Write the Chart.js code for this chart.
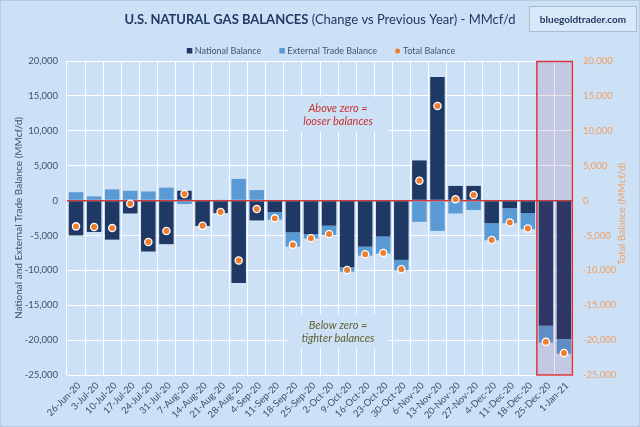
<!DOCTYPE html>
<html><head><meta charset="utf-8">
<script src="https://cdn.jsdelivr.net/npm/chart.js@4"></script>
<style>html,body{margin:0;padding:0;background:#cde1f6;}#wrap{width:640px;height:427px;}</style>
</head><body><div id="wrap"><canvas id="c" width="640" height="427"></canvas></div>
<script>
const categories = ['26-Jun-20','3-Jul-20','10-Jul-20','17-Jul-20','24-Jul-20','31-Jul-20','7-Aug-20','14-Aug-20','21-Aug-20','28-Aug-20','4-Sep-20','11-Sep-20','18-Sep-20','25-Sep-20','2-Oct-20','9-Oct-20','16-Oct-20','23-Oct-20','30-Oct-20','6-Nov-20','13-Nov-20','20-Nov-20','27-Nov-20','4-Dec-20','11-Dec-20','18-Dec-20','25-Dec-20','1-Jan-21'];
const nationalBalance = [-5000,-4500,-5600,-1850,-7300,-6250,1400,-3650,-1800,-11800,-2850,-1650,-4550,-4800,-3600,-9550,-6600,-5150,-8500,5750,17700,2100,2100,-3250,-1100,-1800,-17950,-19850];
const externalTradeBalance = [1200,600,1600,1400,1300,1850,-500,0,100,3100,1500,-1100,-2050,-650,-1350,-650,-1300,-2450,-1500,-3050,-4350,-1850,-1350,-2450,-2150,-2300,-2400,-2100];
const totalBalance = [-3700,-3800,-3950,-450,-5950,-4350,950,-3600,-1650,-8600,-1200,-2550,-6350,-5400,-4800,-9950,-7700,-7500,-9850,2850,13550,200,800,-5650,-3150,-4000,-20250,-21850];
const axisMin = -25000, axisMax = 20000, axisStep = 5000;
const highlightCategories = ['25-Dec-20','1-Jan-21'];
const titleBold = 'U.S. NATURAL GAS BALANCES';
const titleNormal = ' (Change vs Previous Year) - MMcf/d';
const brandText = 'bluegoldtrader.com';
const leftAxisTitle = 'National and External Trade Balance (MMcf/d)';
const rightAxisTitle = 'Total Balance (MMcf/d)';
const notes = [
  {lines:['Above zero =','looser balances'], at:14.5, value:12400, color:'#C8302E'},
  {lines:['Below zero =','tighter balances'], at:14.5, value:-18650, color:'#5F6130'}
];

const BG = '#cde1f6';
const NAVY = '#1F3864';
const LIGHT = '#5B9BD5';
const ORANGE = '#ED7D31';
const FONT = 'Lato, "Noto Sans", sans-serif';
const fmt = v => v.toLocaleString('en-US');

const bgPlugin = {
  id:'bg',
  beforeDraw(chart){
    const c = chart.ctx; c.save(); c.fillStyle = BG; c.fillRect(0,0,chart.width,chart.height); c.restore();
  }
};
const notesPlugin = {
  id:'notes',
  beforeDatasetsDraw(chart){
    const c = chart.ctx, x = chart.scales.x, y = chart.scales.y;
    c.save();
    notes.forEach(n=>{
      const cx = x.getPixelForValue(n.at), cy = y.getPixelForValue(n.value);
      c.fillStyle = BG; c.fillRect(cx-50, cy-17, 100, 35);
      c.font = 'italic 11px ' + FONT; c.fillStyle = n.color; c.textAlign='center'; c.textBaseline='middle';
      c.fillText(n.lines[0], cx, cy-5.5);
      c.fillText(n.lines[1], cx, cy+7.5);
    });
    c.restore();
  }
};
const highlightPlugin = {
  id:'hl',
  beforeDatasetDraw(chart, args){
    if (args.index !== 2) return;
    const c = chart.ctx, x = chart.scales.x, a = chart.chartArea;
    const i0 = categories.indexOf(highlightCategories[0]), i1 = categories.indexOf(highlightCategories[highlightCategories.length-1]);
    const x0 = x.getPixelForValue(i0-0.5), x1 = x.getPixelForValue(i1+0.5);
    c.save();
    c.fillStyle = 'rgba(140,50,100,0.13)';
    c.fillRect(x0, a.top, x1-x0, a.bottom-a.top);
    c.strokeStyle = '#D9363E'; c.lineWidth = 1.5;
    c.strokeRect(x0, a.top+0.5, x1-x0-0.5, a.bottom-a.top-0.5);
    c.restore();
  }
};
const decoPlugin = {
  id:'deco',
  afterDraw(chart){
    const c = chart.ctx, a = chart.chartArea;
    c.save();
    // title
    c.textBaseline = 'middle';
    const TS = 13;
    c.font = 'bold '+TS+'px ' + FONT;
    const wb = c.measureText(titleBold).width;
    c.font = TS+'px ' + FONT;
    const wn = c.measureText(titleNormal).width;
    let tx = 320 - (wb+wn)/2;
    c.fillStyle = '#203864'; c.textAlign = 'left';
    c.font = 'bold '+TS+'px ' + FONT; c.fillText(titleBold, tx, 20);
    c.font = TS+'px ' + FONT; c.fillText(titleNormal, tx+wb, 20);
    // brand box
    c.fillStyle = '#d9e8f8'; c.fillRect(529.5, 6.5, 107, 25);
    c.strokeStyle = '#aabbd0'; c.lineWidth = 1; c.strokeRect(529.5, 6.5, 107, 25);
    c.font = 'bold 10px ' + FONT; c.fillStyle = '#203864'; c.textAlign = 'center';
    c.fillText(brandText, 583, 19.5);
    // legend
    c.font = '9px ' + FONT; c.textAlign = 'left';
    const items = [
      {t:'National Balance', col:NAVY, s:'rect'},
      {t:'External Trade Balance', col:LIGHT, s:'rect'},
      {t:'Total Balance', col:ORANGE, s:'dot'}
    ];
    const gap = 18, mk = 8;
    let total = 0; items.forEach(it=>{ it.w = c.measureText(it.t).width; total += mk + it.w; });
    total += gap*(items.length-1);
    let lx = 321 - total/2; const ly = 51;
    items.forEach(it=>{
      c.fillStyle = it.col;
      if (it.s==='rect') c.fillRect(lx, ly-3, 5.5, 5.5);
      else { c.beginPath(); c.arc(lx+2.5, ly, 2.5, 0, Math.PI*2); c.fill(); }
      c.fillStyle = '#44546A'; c.fillText(it.t, lx+mk, ly);
      lx += mk + it.w + gap;
    });
    // axis titles
    c.font = '10px ' + FONT; c.textAlign = 'center';
    c.save(); c.translate(19, (a.top+a.bottom)/2); c.rotate(-Math.PI/2); c.fillStyle = '#3D4F6F'; c.fillText(leftAxisTitle, 0, 0); c.restore();
    c.save(); c.translate(622, (a.top+a.bottom)/2 - 4); c.rotate(-Math.PI/2); c.fillStyle = '#EE9F65'; c.fillText(rightAxisTitle, 0, 0); c.restore();
    // outer border
    c.strokeStyle = '#b8cbe0'; c.lineWidth = 1; c.strokeRect(0.5, 0.5, chart.width-1, chart.height-1);
    c.restore();
  }
};

new Chart(document.getElementById('c'), {
  type:'bar',
  data:{
    labels: categories,
    datasets:[
      {label:'National Balance', data: nationalBalance, backgroundColor: NAVY, order:2, stack:'s', yAxisID:'y', categoryPercentage:0.8, barPercentage:1},
      {label:'External Trade Balance', data: externalTradeBalance, backgroundColor: LIGHT, order:2, stack:'s', yAxisID:'y', categoryPercentage:0.8, barPercentage:1},
      {type:'line', label:'Total Balance', data: totalBalance, yAxisID:'y2', showLine:false, order:1,
       pointRadius:3.6, pointBorderWidth:1.3, pointBorderColor:'#ffffff', pointBackgroundColor: ORANGE, pointHoverRadius:3.6}
    ]
  },
  options:{
    responsive:false, animation:false, devicePixelRatio:1,
    layout:{padding:{top:61, left:0, right:0, bottom:0}},
    plugins:{legend:{display:false}, title:{display:false}, tooltip:{enabled:false}},
    scales:{
      x:{
        stacked:true,
        grid:{color:'#ffffff', lineWidth:1, drawTicks:false, offset:true},
        border:{display:false},
        ticks:{autoSkip:false, maxRotation:45, minRotation:45, color:'#3D4F6F', font:{family:FONT, size:9.5}, padding:5, labelOffset:3},
        afterFit(s){ s.height = 52; }
      },
      y:{
        stacked:true, position:'left', min:axisMin, max:axisMax,
        grid:{color:ctx=> ctx.tick && ctx.tick.value===0 ? '#D23A3A' : '#ffffff', lineWidth:ctx=> ctx.tick && ctx.tick.value===0 ? 1.6 : 1, drawTicks:false},
        border:{display:false},
        ticks:{stepSize:axisStep, color:'#3D4F6F', font:{family:FONT, size:9.5}, padding:9, callback:v=>fmt(v)},
        afterFit(s){ s.width = 67; }
      },
      y2:{
        position:'right', min:axisMin, max:axisMax,
        grid:{display:false, drawTicks:false},
        border:{display:false},
        ticks:{stepSize:axisStep, color:'#EE9F65', font:{family:FONT, size:9.5}, padding:10, callback:v=>fmt(v)},
        afterFit(s){ s.width = 67; }
      }
    }
  },
  plugins:[bgPlugin, notesPlugin, highlightPlugin, decoPlugin]
});
</script></body></html>
